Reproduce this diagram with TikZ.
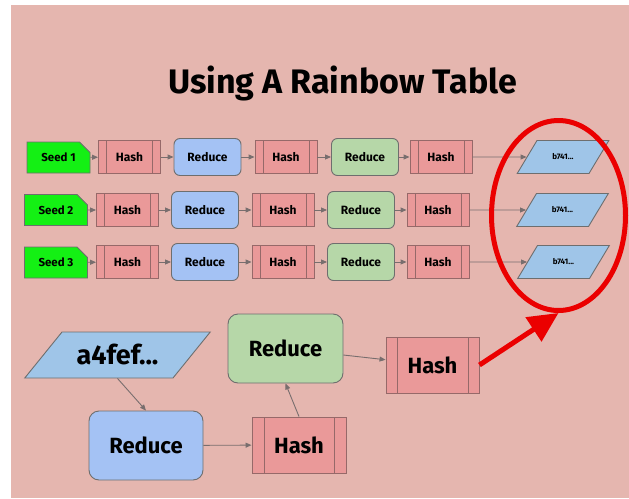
\documentclass[tikz,border=0pt]{standalone}
\usepackage{fontspec}
\setmainfont{Fira Sans}
\usepackage{xcolor}
\usepackage{tikz}
\usetikzlibrary{shapes.geometric,shapes.misc,arrows.meta}
\definecolor{bgpink}{RGB}{229,182,175}
\definecolor{hashred}{RGB}{234,153,153}
\definecolor{hashline}{RGB}{150,105,105}
\definecolor{redblue}{RGB}{164,194,244}
\definecolor{redgreen}{RGB}{182,215,168}
\definecolor{outblue}{RGB}{159,197,232}
\definecolor{seedgreen}{RGB}{20,240,20}
\definecolor{linegray}{RGB}{110,110,110}
\definecolor{arrowgray}{RGB}{120,110,110}
\definecolor{ringred}{RGB}{235,0,0}
\newcommand{\rowfont}{\bfseries\fontsize{12}{14}\selectfont}
\newcommand{\bigfont}{\bfseries\fontsize{22}{26}\selectfont}

\begin{document}
\begin{tikzpicture}[
			x=1pt, y=-1pt,
			hashbox/.style={rectangle, draw=hashline, fill=hashred, line width=0.9pt, inner sep=0pt, minimum width=62pt, minimum height=33pt, font=\rowfont,
				path picture={\draw[hashline, line width=0.9pt] ([xshift=#1]path picture bounding box.north west) -- ([xshift=#1]path picture bounding box.south west)
					([xshift=-#1]path picture bounding box.north east) -- ([xshift=-#1]path picture bounding box.south east);}},
			hashbox/.default=8pt,
			reducebox/.style={rectangle, draw=linegray, line width=0.9pt, rounded corners=6pt, inner sep=0pt, minimum width=67pt, minimum height=37pt, font=\rowfont},
			seedbox/.style={chamfered rectangle, chamfered rectangle corners=north east, chamfered rectangle xsep=6pt, chamfered rectangle ysep=6pt, draw=linegray, fill=seedgreen, line width=0.9pt, inner sep=0pt, minimum width=63pt, minimum height=31pt, font=\bfseries\fontsize{11.5}{13}\selectfont},
			outbox/.style={trapezium, trapezium left angle=59, trapezium right angle=121, draw=linegray, fill=outblue, line width=0.9pt, align=center, text width=40pt, text height=5.5pt, text depth=0pt, inner xsep=6pt, inner ysep=13.75pt, font=\bfseries\fontsize{8}{9}\selectfont},
			conn/.style={-{Triangle[length=6pt,width=5pt]}, draw=arrowgray, line width=0.9pt}
			]
			
			% page and backdrop
			\fill[white] (0,0) rectangle (629,498);
			\fill[bgpink] (11,5) rectangle (629,498);
			
			% title
			\node[anchor=base, font=\bfseries\fontsize{34}{38}\selectfont] (title) at (342.5,93) {Using A Rainbow Table};
			
			% chain 1
			\node[seedbox] (seedA) at (58.5,157.5) {Seed 1};
			\node[hashbox] (hashA1) at (129.5,157) {Hash};
			\node[reducebox, fill=redblue] (redA1) at (207.5,157) {Reduce};
			\node[hashbox] (hashA2) at (286,157) {Hash};
			\node[reducebox, fill=redgreen] (redA2) at (365,157) {Reduce};
			\node[hashbox] (hashA3) at (441,157) {Hash};
			\node[outbox] (endA) at (563,157) {b741...};
			
			% chain 2
			\node[seedbox] (seedB) at (56,210) {Seed 2};
			\node[hashbox] (hashB1) at (127.5,210) {Hash};
			\node[reducebox, fill=redblue] (redB1) at (205,210) {Reduce};
			\node[hashbox] (hashB2) at (283,210) {Hash};
			\node[reducebox, fill=redgreen] (redB2) at (361,210) {Reduce};
			\node[hashbox] (hashB3) at (438,210) {Hash};
			\node[outbox] (endB) at (562.5,210) {b741...};
			
			% chain 3
			\node[seedbox] (seedC) at (56,262.5) {Seed 3};
			\node[hashbox] (hashC1) at (127.5,262) {Hash};
			\node[reducebox, fill=redblue] (redC1) at (205,262) {Reduce};
			\node[hashbox] (hashC2) at (283,262) {Hash};
			\node[reducebox, fill=redgreen] (redC2) at (361,262) {Reduce};
			\node[hashbox] (hashC3) at (438,262) {Hash};
			\node[outbox] (endC) at (563.5,262) {b741...};
			
			% chain links
			\draw[conn] (seedA) -- (hashA1); \draw[conn] (hashA1) -- (redA1); \draw[conn] (redA1) -- (hashA2);
			\draw[conn] (hashA2) -- (redA2); \draw[conn] (redA2) -- (hashA3); \draw[conn] (hashA3) -- (endA);
			\draw[conn] (seedB) -- (hashB1); \draw[conn] (hashB1) -- (redB1); \draw[conn] (redB1) -- (hashB2);
			\draw[conn] (hashB2) -- (redB2); \draw[conn] (redB2) -- (hashB3); \draw[conn] (hashB3) -- (endB);
			\draw[conn] (seedC) -- (hashC1); \draw[conn] (hashC1) -- (redC1); \draw[conn] (redC1) -- (hashC2);
			\draw[conn] (hashC2) -- (redC2); \draw[conn] (redC2) -- (hashC3); \draw[conn] (hashC3) -- (endC);
			
			% lookup of a single hash
			\node[outbox, trapezium left angle=51, trapezium right angle=129, text width=100pt, text height=18pt, inner xsep=5.5pt, inner ysep=14pt, font=\bfseries\fontsize{27}{30}\selectfont] (start) at (117.5,355) {a4fef...};
			\node[reducebox, fill=redblue, rounded corners=10pt, minimum width=114pt, minimum height=69pt, font=\bigfont] (redX) at (146,445.5) {Reduce};
			\node[hashbox=12pt, minimum width=94pt, minimum height=56pt, font=\bigfont] (hashX) at (299,445) {Hash};
			\node[reducebox, fill=redgreen, rounded corners=10pt, minimum width=115pt, minimum height=69pt, font=\bigfont] (redY) at (285.5,348.5) {Reduce};
			\node[hashbox=11pt, minimum width=93pt, minimum height=56pt, font=\bigfont] (hashY) at (432.5,365) {Hash};
			
			\draw[conn] (start.south) -- (redX.north);
			\draw[conn] (redX) -- (hashX);
			\draw[conn] (hashX.north) -- (redY.south);
			\draw[conn] (redY) -- (hashY);
			
			% match found
			\node[ellipse, draw=ringred, line width=5pt, minimum width=134pt, minimum height=190pt, inner sep=0pt] (ring) at (558.5,215.5) {};
			\draw[ringred, line width=5pt, -{Triangle[length=30pt,width=28pt]}] (hashY.east) -- (ring.south);
			
		\end{tikzpicture}
\end{document}
